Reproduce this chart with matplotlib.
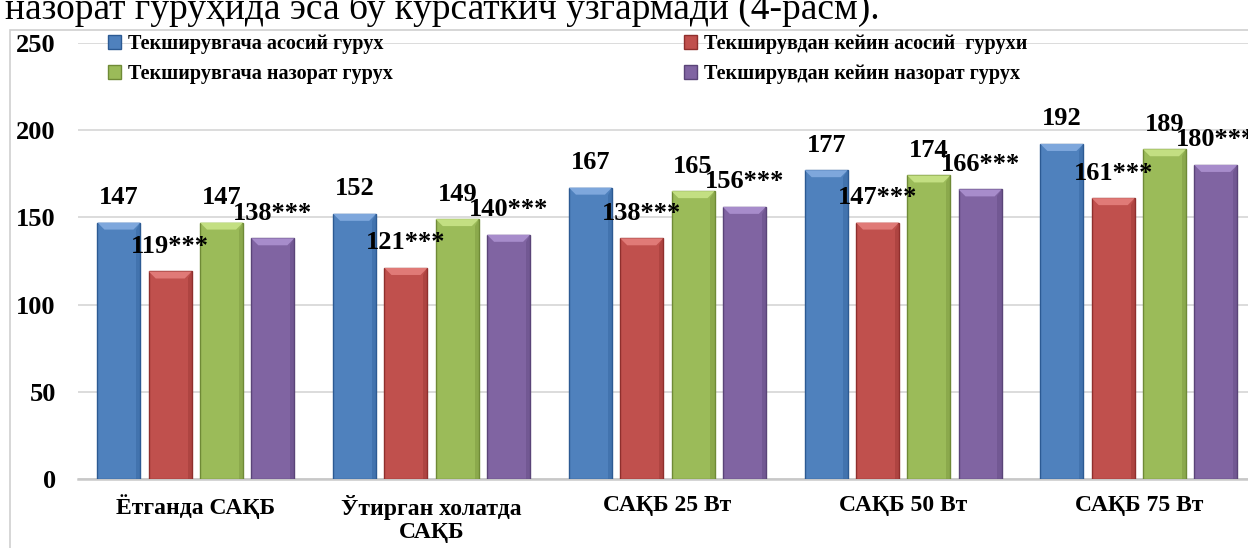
import matplotlib
matplotlib.use("Agg")
import matplotlib.pyplot as plt
from matplotlib.patches import Rectangle, Polygon
import numpy as np

categories = ["Ётганда САҚБ", "Ўтирган холатда\nСАҚБ", "САҚБ 25 Вт", "САҚБ 50 Вт", "САҚБ 75 Вт"]
series_names = ["Текширувгача асосий гурух", "Текширувдан кейин асосий  гурухи",
                "Текширувгача назорат гурух", "Текширувдан кейин назорат гурух"]
before_main = [147, 152, 167, 177, 192]
after_main = [119, 121, 138, 147, 161]
before_ctrl = [147, 149, 165, 174, 189]
after_ctrl = [138, 140, 156, 166, 180]
label_suffix = ["", "***", "", "***"]
yticks = [0, 50, 100, 150, 200, 250]

colors = ["#4F81BD", "#C0504D", "#9BBB59", "#8064A2"]
edge_colors = ["#2c5a93", "#8f2f2d", "#6f8a36", "#5a4478"]
top_colors = ["#7ea7dc", "#e07a77", "#c3df82", "#a78ccb"]

FONT = ["Liberation Serif", "DejaVu Serif"]
plt.rcParams['font.family'] = FONT

W, H = 1248, 548
fig = plt.figure(figsize=(W / 100, H / 100), dpi=100)

# header text line from document (partially cut off)
fig.text(5 / W, 1 - 19 / H, "назорат гуруҳида эса бу кўрсаткич ўзгармади (4-расм).",
         fontsize=27, va="baseline", ha="left", family=FONT)

# chart border
fig.add_artist(Rectangle((10 / W, -0.05), 1.2, 1 - 30 / H + 0.05, transform=fig.transFigure,
                         facecolor="white", edgecolor="#d0d0d0", linewidth=1.2, zorder=0))

ax_left, ax_bottom = 78 / W, (H - 479.3) / H
ax_w, ax_h = (W - 78) / W, (479.3 - 42.7) / H
ax = fig.add_axes([ax_left, ax_bottom, ax_w, ax_h])
ax.set_facecolor("none")

px_per_x = 235.75
px_per_y = (479.3 - 42.7) / 250
ax.set_xlim(-0.5, -0.5 + (W - 78) / px_per_x)
ax.set_ylim(0, 250)

series = [before_main, after_main, before_ctrl, after_ctrl]
x = np.arange(len(categories))
pitch = 51.3 / px_per_x
bw = 43 / px_per_x
offsets = [-1.5 * pitch, -0.5 * pitch, 0.5 * pitch, 1.5 * pitch]

handles = []
for i, vals in enumerate(series):
    bars = ax.bar(x + offsets[i], vals, width=bw, color=colors[i], edgecolor=edge_colors[i],
                  linewidth=1.0, zorder=3, label=series_names[i])
    handles.append(bars)
    dx = 7 / px_per_x
    dy = 7 / px_per_y
    for xi, v in zip(x + offsets[i], vals):
        x0, x1 = xi - bw / 2, xi + bw / 2
        ax.add_patch(Polygon([(x0, v), (x1, v), (x1 - dx, v - dy), (x0 + dx, v - dy)],
                             closed=True, facecolor=top_colors[i], edgecolor="none", zorder=4))
        ax.add_patch(Polygon([(x1, v), (x1, 0), (x1 - dx * 0.6, 0), (x1 - dx * 0.6, v - dy)],
                             closed=True, facecolor=edge_colors[i], alpha=0.35, edgecolor="none", zorder=4))
        ax.annotate(f"{v}{label_suffix[i]}", (xi, v), xytext=(0, 25), textcoords="offset pixels",
                    ha="center", va="center", fontsize=19, fontweight="bold", zorder=6)

ax.set_yticks(yticks)
ax.set_yticklabels([str(t) for t in yticks], fontsize=19, fontweight="bold")
ax.set_xticks(x)
ax.set_xticklabels(categories, fontsize=17, fontweight="bold", linespacing=1.15)
ax.tick_params(axis="both", length=0)
ax.tick_params(axis="y", pad=16)
ax.tick_params(axis="x", pad=11)
ax.grid(axis="y", color="#d9d9d9", linewidth=1.3, zorder=0)
ax.set_axisbelow(True)
for s in ["top", "right", "left"]:
    ax.spines[s].set_visible(False)
ax.spines["bottom"].set_color("#c8c8c8")
ax.spines["bottom"].set_linewidth(1.8)
ax.spines["bottom"].set_zorder(2)

leg_kw = dict(frameon=False, prop={"weight": "bold", "size": 14.5, "family": FONT},
              handlelength=0.65, handleheight=0.65, handletextpad=0.35, labelspacing=0.5,
              borderaxespad=0, borderpad=0)
leg1 = fig.legend([handles[0], handles[2]], [series_names[0], series_names[2]],
                  loc="upper left", bbox_to_anchor=(108 / W, 1 - 34 / H), **leg_kw)
leg2 = fig.legend([handles[1], handles[3]], [series_names[1], series_names[3]],
                  loc="upper left", bbox_to_anchor=(684 / W, 1 - 34 / H), **leg_kw)

fig.savefig("out.png", dpi=100)
